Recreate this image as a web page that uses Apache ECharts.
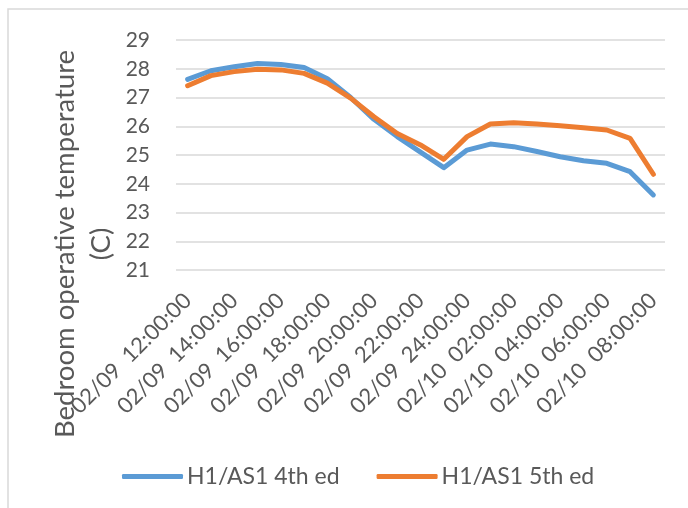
<!DOCTYPE html>
<html>
<head>
<meta charset="utf-8">
<script src="https://cdn.jsdelivr.net/npm/echarts@6/dist/echarts.min.js"></script>
<style>
  html, body { margin: 0; padding: 0; background: #fff; }
  #chart { width: 688px; height: 508px; }
</style>
</head>
<body>
<div id="chart"></div>
<script>
// hourly time stamps, 02/09 12:00 -> 02/10 08:00
const categories = [
  '02/09  12:00:00', '02/09  13:00:00', '02/09  14:00:00', '02/09  15:00:00',
  '02/09  16:00:00', '02/09  17:00:00', '02/09  18:00:00', '02/09  19:00:00',
  '02/09  20:00:00', '02/09  21:00:00', '02/09  22:00:00', '02/09  23:00:00',
  '02/09  24:00:00', '02/10  01:00:00', '02/10  02:00:00', '02/10  03:00:00',
  '02/10  04:00:00', '02/10  05:00:00', '02/10  06:00:00', '02/10  07:00:00',
  '02/10  08:00:00'
]
const seriesNames = ['H1/AS1 4th ed', 'H1/AS1 5th ed']
const ed4 = [27.63, 27.93, 28.07, 28.18, 28.15, 28.04, 27.65, 27.0, 26.24, 25.64,
  25.1, 24.56, 25.17, 25.38, 25.29, 25.12, 24.94, 24.8, 24.71, 24.42, 23.61]
const ed5 = [27.41, 27.76, 27.9, 27.98, 27.96, 27.84, 27.5, 26.98, 26.33, 25.75,
  25.35, 24.85, 25.64, 26.08, 26.12, 26.08, 26.02, 25.95, 25.87, 25.58, 24.33]
const yTicks = { min: 21, max: 29, step: 1 }

const textColor = '#595959'
const font = 'Lato, "Open Sans", sans-serif'

const chart = echarts.init(document.getElementById('chart'))
chart.setOption({
  animation: false,
  color: ['#5B9BD5', '#ED7D31'],
  textStyle: { fontFamily: font, color: textColor },
  grid: {
    left: 176,
    right: 23,
    top: 40,
    bottom: 238
  },
  graphic: [
    {
      type: 'rect',
      shape: { x: 8, y: 9, width: 720, height: 540 },
      style: { fill: 'none', stroke: '#d9d9d9', lineWidth: 1.5 },
      silent: true
    },
    {
      type: 'text',
      x: 83,
      y: 244,
      rotation: Math.PI / 2,
      style: {
        text: 'Bedroom operative temperature\n(C)',
        fontFamily: font,
        fontSize: 27.5,
        lineHeight: 36,
        fill: textColor,
        align: 'center',
        verticalAlign: 'middle'
      }
    }
  ],
  legend: {
    data: seriesNames,
    left: 122,
    top: 465,
    padding: 0,
    icon: 'roundRect',
    itemWidth: 61,
    itemHeight: 5,
    itemGap: 37,
    textStyle: { fontFamily: font, fontSize: 23, color: textColor, padding: [0, 0, 0, -1] }
  },
  xAxis: {
    type: 'category',
    data: categories,
    boundaryGap: true,
    axisLine: { show: false },
    axisTick: { show: false },
    axisLabel: {
      interval: 1,
      rotate: 45,
      margin: 27,
      fontSize: 22,
      color: textColor,
      fontFamily: font
    }
  },
  yAxis: {
    type: 'value',
    min: yTicks.min,
    max: yTicks.max,
    interval: yTicks.step,
    axisLine: { show: false },
    axisTick: { show: false },
    axisLabel: { fontSize: 21, margin: 26, color: textColor, fontFamily: font },
    splitLine: { lineStyle: { color: '#d9d9d9', width: 1.5 } }
  },
  series: [
    {
      name: seriesNames[0],
      type: 'line',
      data: ed4,
      symbol: 'none',
      lineStyle: { width: 5, cap: 'round', join: 'round' }
    },
    {
      name: seriesNames[1],
      type: 'line',
      data: ed5,
      symbol: 'none',
      lineStyle: { width: 5, cap: 'round', join: 'round' }
    }
  ]
})
</script>
</body>
</html>
